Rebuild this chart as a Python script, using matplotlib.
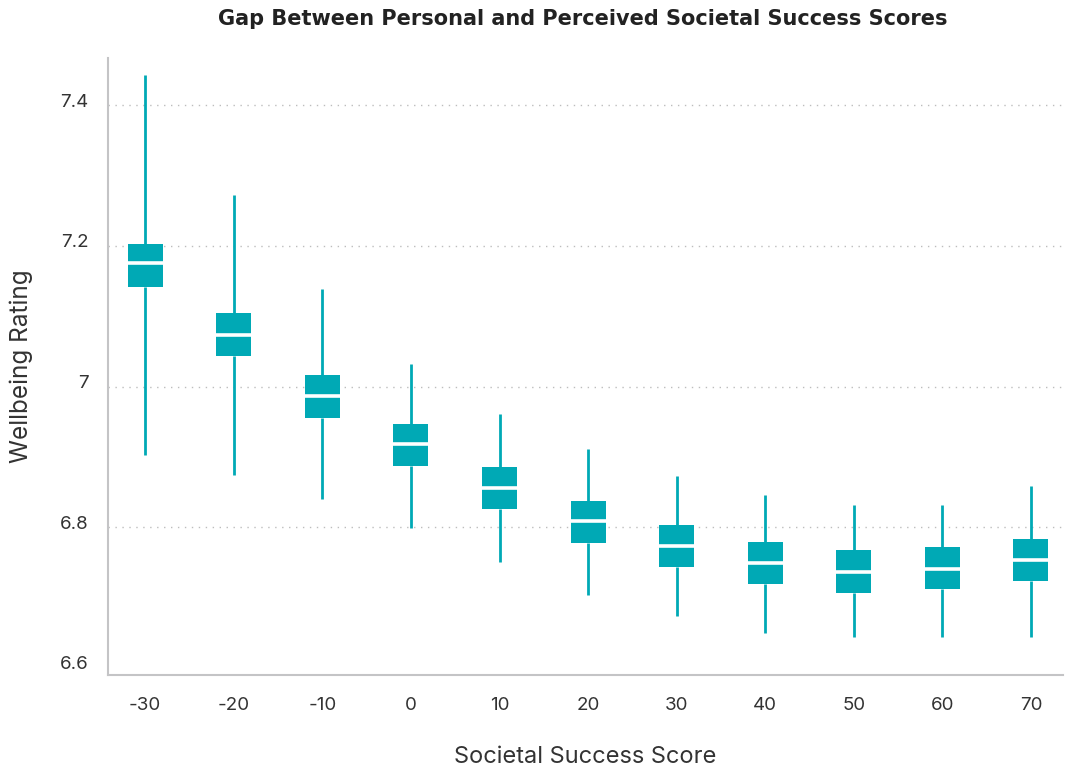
import matplotlib
matplotlib.use("Agg")
import matplotlib.pyplot as plt
import matplotlib.transforms as mtransforms

# Societal success score groups
categories = ["-30", "-20", "-10", "0", "10", "20", "30", "40", "50", "60", "70"]

# Box statistics for wellbeing rating per group
whisker_high = [7.443, 7.272, 7.138, 7.032, 6.961, 6.911, 6.873, 6.846, 6.832, 6.832, 6.859]
q3_values    = [7.203, 7.105, 7.017, 6.947, 6.886, 6.838, 6.803, 6.779, 6.768, 6.772, 6.784]
medians      = [7.176, 7.073, 6.987, 6.918, 6.856, 6.809, 6.774, 6.749, 6.736, 6.741, 6.753]
q1_values    = [7.142, 7.044, 6.955, 6.887, 6.826, 6.778, 6.744, 6.719, 6.707, 6.712, 6.723]
whisker_low  = [6.903, 6.874, 6.840, 6.799, 6.751, 6.704, 6.674, 6.650, 6.644, 6.644, 6.644]

y_ticks = [6.6, 6.8, 7.0, 7.2, 7.4]
y_tick_labels = ["6.6", "6.8", "7", "7.2", "7.4"]

TEAL = "#00A9B5"
GRID = "#BDBDBD"
SPINE = "#C4C4C6"
TEXT = "#333333"

plt.rcParams["font.family"] = ["Inter", "DejaVu Sans"]

fig = plt.figure(figsize=(10.65, 7.69), dpi=100)
ax = fig.add_axes([0.1014, 0.1222, 0.8966, 0.8024])

stats = []
for i, lab in enumerate(categories):
    stats.append({
        "label": lab,
        "whislo": whisker_low[i],
        "q1": q1_values[i],
        "med": medians[i],
        "q3": q3_values[i],
        "whishi": whisker_high[i],
        "fliers": [],
    })

ax.bxp(
    stats,
    positions=range(len(categories)),
    widths=0.395,
    patch_artist=True,
    showcaps=False,
    showfliers=False,
    boxprops=dict(facecolor=TEAL, edgecolor="none", linewidth=0),
    whiskerprops=dict(color=TEAL, linewidth=2.0, solid_capstyle="butt"),
    medianprops=dict(color="white", linewidth=2.6, solid_capstyle="butt"),
    zorder=3,
)

ax.set_xlim(-0.42, 10.36)
ax.set_ylim(6.59, 7.467)

ax.set_yticks(y_ticks)
ax.set_yticklabels(y_tick_labels)
ax.set_xticks(range(len(categories)))
ax.set_xticklabels(categories)

ax.tick_params(axis="both", length=0, labelsize=13.5, colors=TEXT)
ax.tick_params(axis="y", pad=14)
ax.tick_params(axis="x", pad=16)

# Lift the y tick labels slightly above their gridlines
offset = mtransforms.ScaledTranslation(0, 5 / 100, fig.dpi_scale_trans)
for lbl in ax.get_yticklabels():
    lbl.set_transform(lbl.get_transform() + offset)

ax.yaxis.grid(True, linestyle=(0, (1, 4)), color=GRID, linewidth=1.0, zorder=0)
ax.set_axisbelow(True)
gl = ax.yaxis.get_gridlines()
gl[0].set_visible(False)

for side in ["top", "right"]:
    ax.spines[side].set_visible(False)
for side in ["left", "bottom"]:
    ax.spines[side].set_color(SPINE)
    ax.spines[side].set_linewidth(1.5)

ax.set_xlabel("Societal Success Score", fontsize=17, color=TEXT, labelpad=23)
ax.set_ylabel("Wellbeing Rating", fontsize=17.5, color=TEXT, labelpad=19)

fig.suptitle("Gap Between Personal and Perceived Societal Success Scores",
             x=0.547, y=0.988, fontsize=15, fontweight="bold", color="#222222",
             va="top", family=["DejaVu Sans"])

fig.savefig("out.png", dpi=100)
